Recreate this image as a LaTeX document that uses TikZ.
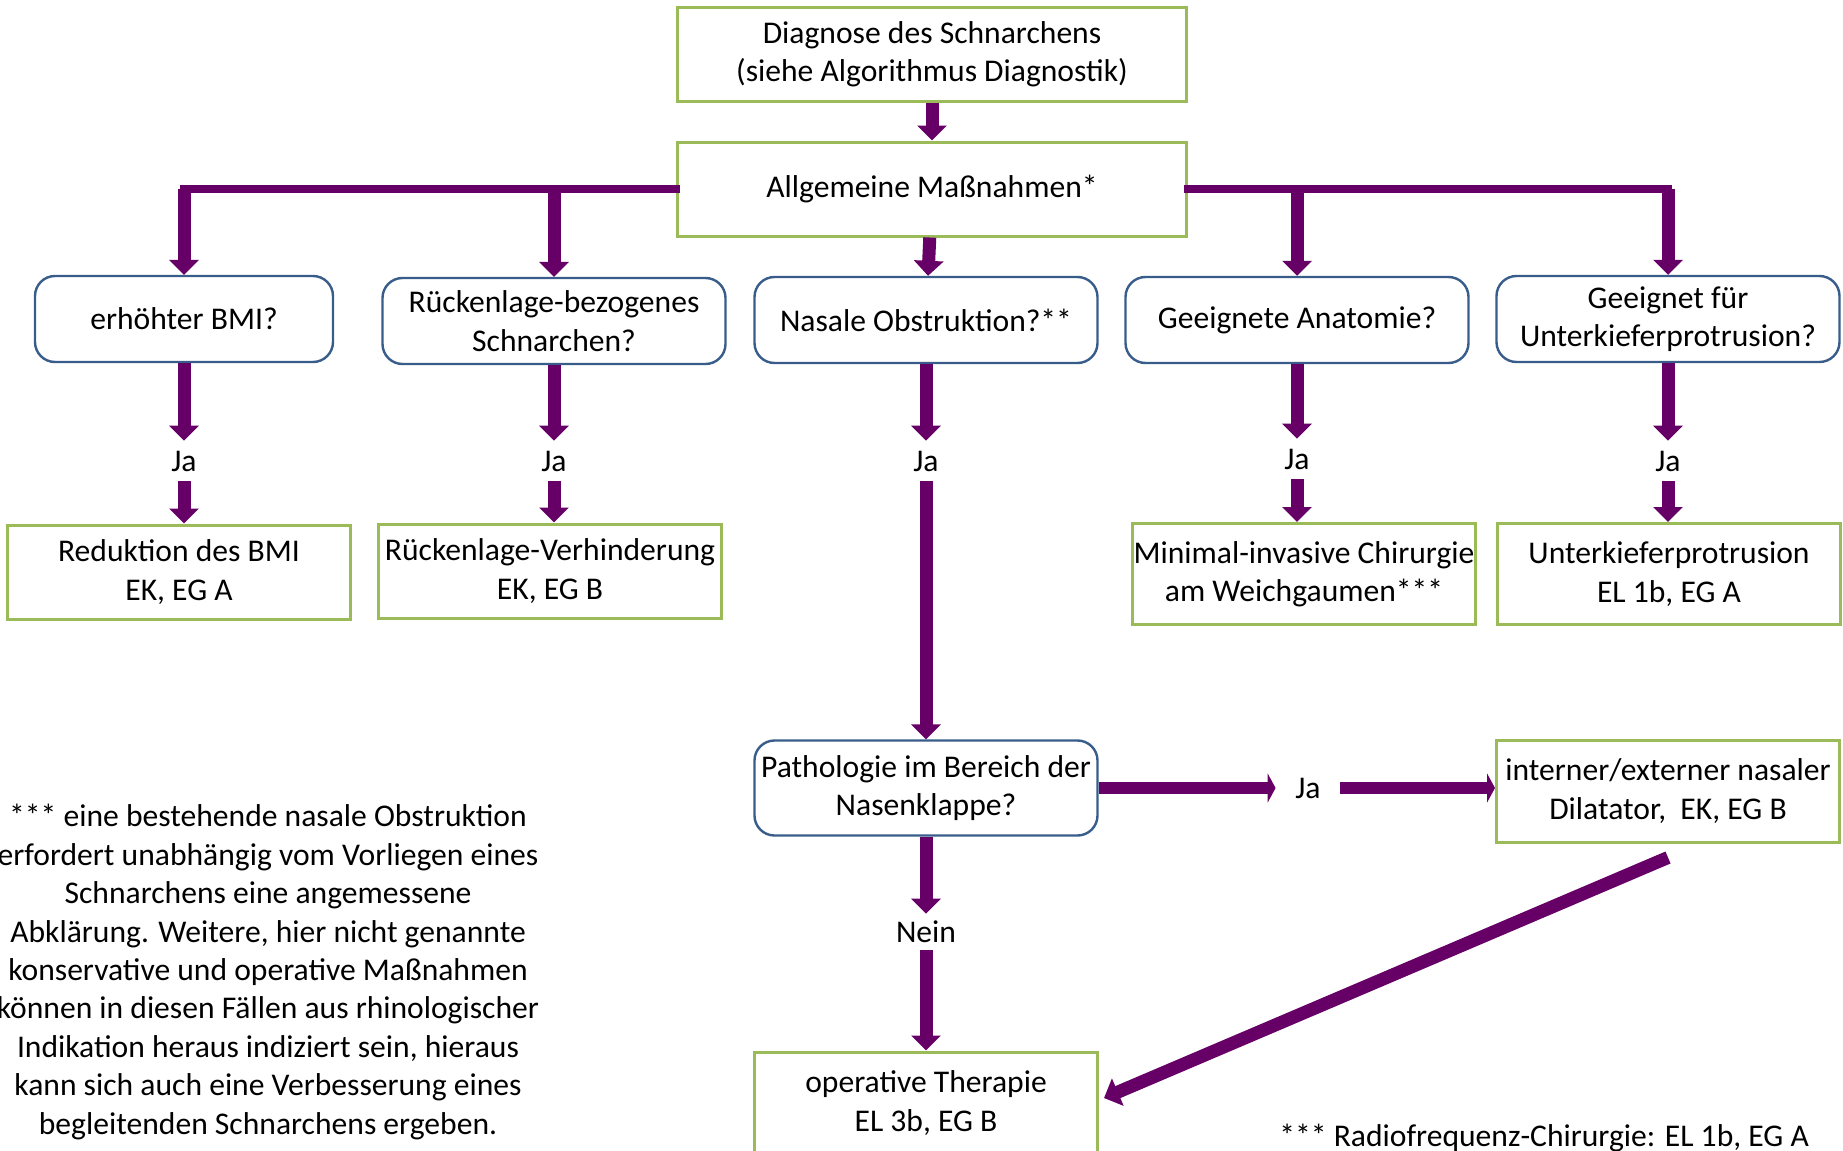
\documentclass[tikz,border=0pt]{standalone}
\usepackage{fontspec}
\setmainfont{Carlito}
\usetikzlibrary{arrows.meta,positioning}
\definecolor{pPurple}{RGB}{102,0,102}
\definecolor{pGreen}{RGB}{155,187,89}
\definecolor{pBlue}{RGB}{56,93,138}
\tikzset{
    res/.style={rectangle, draw=pGreen, line width=1.5pt, fill=white, align=center, inner sep=0pt, minimum width=171.5pt, minimum height=47pt},
    ques/.style={rectangle, rounded corners=10pt, draw=pBlue, line width=1.2pt, fill=white, align=center, inner sep=0pt, minimum width=171.5pt, minimum height=43pt},
    ja/.style={inner sep=0pt, minimum width=32pt, minimum height=20pt},
    flow/.style={pPurple, line width=6.5pt, -{Triangle[length=7.5pt, width=14.5pt]}},
    hflow/.style={pPurple, line width=6pt, -{Triangle[length=4pt, width=14.5pt]}},
    trunk/.style={pPurple, line width=4pt, line cap=rect},
    note/.style={align=center}
}

\begin{document}
\begin{tikzpicture}[x=0.5pt,y=-0.5pt,font=\fontsize{15.8}{19.2}\selectfont]
\useasboundingbox (0,0) rectangle (1843,1151);
% top
\node[res, minimum width=254.5pt] (diag) at (932,54) {Diagnose des Schnarchens\\(siehe Algorithmus Diagnostik)};
\node[res, minimum width=254.5pt] (allg) at (932,189) {Allgemeine Maßnahmen*};
% questions
\node[ques, minimum width=149pt] (bmi) at (184,319) {erhöhter BMI?};
\node[ques] (rueck) at (554,321) {Rückenlage-bezogenes\\Schnarchen?};
\node[ques] (nase) at (926,320) {Nasale Obstruktion?**};
\node[ques] (anat) at (1297,320) {Geeignete Anatomie?};
\node[ques] (ukq) at (1668,319) {Geeignet für\\Unterkieferprotrusion?};
% answers
\node[ja] (ja1) at (184,461) {Ja};
\node[ja] (ja2) at (554,461) {Ja};
\node[ja] (ja3) at (926,461) {Ja};
\node[ja] (ja4) at (1297,459) {Ja};
\node[ja] (ja5) at (1668,461) {Ja};
% results
\node[res] (red) at (179,572) {Reduktion des BMI\\EK, EG A};
\node[res] (verh) at (550,571) {Rückenlage-Verhinderung\\EK, EG B};
\node[res, minimum height=50.5pt] (minv) at (1304,574) {Minimal-invasive Chirurgie\\am Weichgaumen***};
\node[res, minimum height=50.5pt] (ukp) at (1669,574) {Unterkieferprotrusion\\EL 1b, EG A};
% nasal valve
\node[ques, minimum height=47.5pt] (path) at (926,788) {Pathologie im Bereich der\\Nasenklappe?};
\node[ja] (jah) at (1308,788) {Ja};
\node[res, minimum height=51pt] (dil) at (1668,791) {interner/externer nasaler\\Dilatator,\ \ EK, EG B};
\node[ja, minimum height=18pt] (nein) at (926,932) {Nein};
\node[res, minimum height=51pt] (oper) at (926,1103) {operative Therapie\\EL 3b, EG B};
% footnotes
\node[note] (fn2) at (268,972) {*** eine bestehende nasale Obstruktion\\erfordert unabhängig vom Vorliegen eines\\Schnarchens eine angemessene\\Abklärung. Weitere, hier nicht genannte\\konservative und operative Maßnahmen\\können in diesen Fällen aus rhinologischer\\Indikation heraus indiziert sein, hieraus\\kann sich auch eine Verbesserung eines\\begleitenden Schnarchens ergeben.};
\node[note, anchor=base west, inner sep=0pt] (fn3) at (1279,1146) {*** Radiofrequenz-Chirurgie: EL 1b, EG A};

% connectors
\draw[flow] (diag) -- (allg);
\draw[trunk] (allg.west) -- (allg.west -| bmi.north);
\draw[trunk] (allg.east) -- (allg.east -| ukq.north);
\draw[flow] (allg.west -| bmi.north) -- (bmi.north);
\draw[flow] (allg.west -| rueck.north) -- (rueck.north);
\draw[flow] (allg) -- (nase);
\draw[flow] (allg.east -| anat.north) -- (anat.north);
\draw[flow] (allg.east -| ukq.north) -- (ukq.north);
\draw[flow] (bmi) -- (ja1);
\draw[flow] (ja1) -- (ja1 |- red.north);
\draw[flow] (rueck) -- (ja2);
\draw[flow] (ja2) -- (ja2 |- verh.north);
\draw[flow] (nase) -- (ja3);
\draw[flow] (ja3) -- (path);
\draw[flow] (anat) -- (ja4);
\draw[flow] (ja4) -- (ja4 |- minv.north);
\draw[flow] (ukq) -- (ja5);
\draw[flow] (ja5) -- (ja5 |- ukp.north);
\draw[hflow] (path) -- (jah);
\draw[hflow] (jah) -- (jah -| dil.west);
\draw[flow] (path) -- (nein);
\draw[flow] (nein) -- (oper);
\draw[flow] ([yshift=-7pt]dil.south) -- ([xshift=2.5pt,yshift=2.5pt]oper.east);
\end{tikzpicture}
\end{document}
